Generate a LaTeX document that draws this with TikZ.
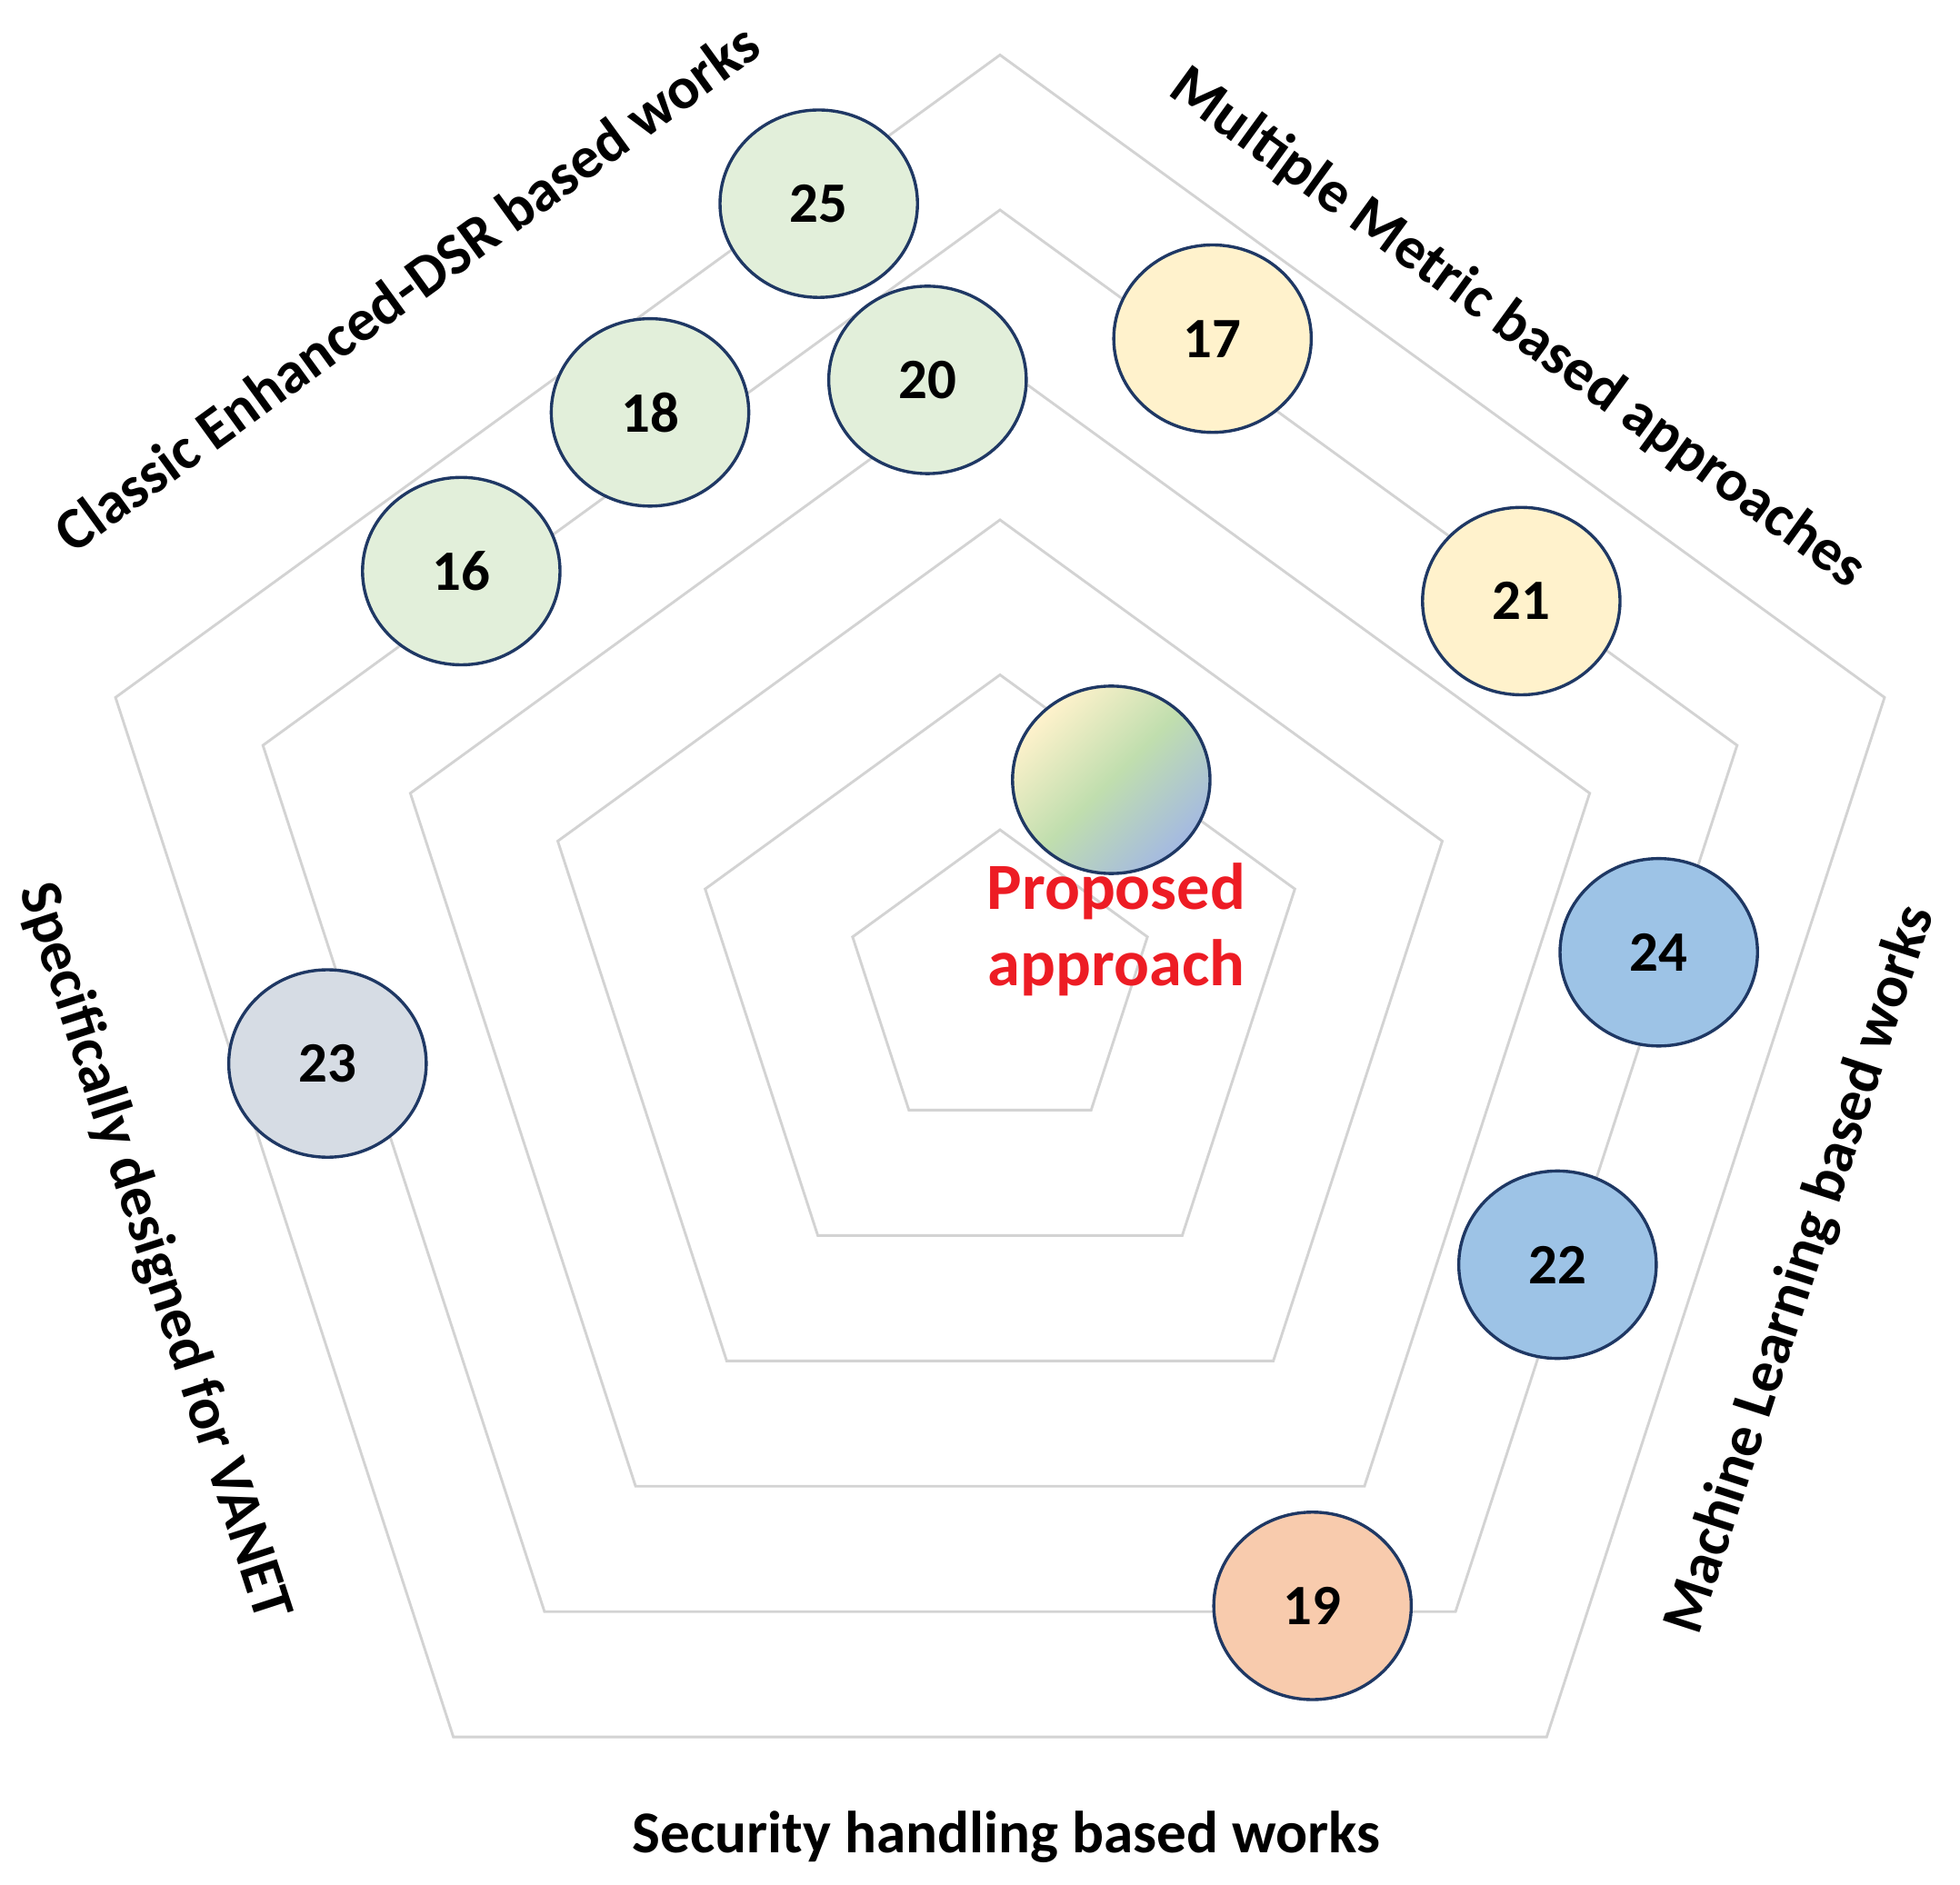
\documentclass[tikz,border=0pt]{standalone}
\usepackage{fontspec}
\setmainfont{Carlito}
\usetikzlibrary{positioning, shapes.geometric}

\definecolor{ringgray}{HTML}{D3D3D3}
\definecolor{edgeblue}{HTML}{1F3864}
\definecolor{dsrgreen}{HTML}{E2EFDA}
\definecolor{metricyellow}{HTML}{FFF2CC}
\definecolor{mlblue}{HTML}{9DC3E6}
\definecolor{secorange}{HTML}{F8CBAD}
\definecolor{vanetgray}{HTML}{D6DCE4}
\definecolor{propyellow}{HTML}{FFF2CC}
\definecolor{propgreen}{HTML}{C0DEAE}
\definecolor{propblue}{HTML}{A4B9E2}
\definecolor{propred}{HTML}{ED1C24}

\begin{document}
\begin{tikzpicture}[
    every node/.style={font=\bfseries},
    ring/.style={draw=ringgray, line width=0.6pt},
    work/.style={
        ellipse, draw=edgeblue, line width=0.7pt, inner sep=0pt,
        minimum width=1.58cm, minimum height=1.50cm,
        font=\fontsize{13}{15}\selectfont\bfseries
    },
    axislabel/.style={font=\fontsize{13.5}{16}\selectfont\bfseries, inner sep=0pt},
]
\useasboundingbox (0,0) rectangle (15.68,-15.08);

% =====================================================================
%  Concentric pentagons
% =====================================================================
\coordinate (ctr) at (8.00,-7.88);
\foreach \r in {1.24,2.48,3.72,4.96,6.20,7.44}
    \draw[ring, shift={(ctr)}]
        (90:\r) -- (162:\r) -- (234:\r) -- (306:\r) -- (18:\r) -- cycle;

% =====================================================================
%  Works, one colour per family
% =====================================================================
% Classic Enhanced-DSR
\node[work, fill=dsrgreen] (w25) at (6.55,-1.63) {25};
\node[work, fill=dsrgreen] (w20) at (7.42,-3.04) {20};
\node[work, fill=dsrgreen] (w18) at (5.20,-3.30) {18};
\node[work, fill=dsrgreen] (w16) at (3.69,-4.57) {16};

% Multiple metric
\node[work, fill=metricyellow] (w17) at (9.70,-2.71) {17};
\node[work, fill=metricyellow] (w21) at (12.17,-4.81) {21};

% Machine learning
\node[work, fill=mlblue] (w24) at (13.27,-7.62) {24};
\node[work, fill=mlblue] (w22) at (12.46,-10.12) {22};

% Security handling
\node[work, fill=secorange] (w19) at (10.50,-12.85) {19};

% VANET specific
\node[work, fill=vanetgray] (w23) at (2.62,-8.51) {23};

% Proposed approach
\node[work, top color=propyellow, bottom color=propblue,
      middle color=propgreen, shading angle=45] (prop) at (8.89,-6.24) {};
\node[font=\fontsize{15}{17.5}\selectfont\bfseries, text=propred,
      align=center, inner sep=0pt, below=-3pt of prop, xshift=0.4mm]
    (proplabel) {Proposed\\approach};

% =====================================================================
%  Family labels along the outer edges
% =====================================================================
\node[axislabel, rotate=36]  (dsr)    at (3.25,-2.30)  {Classic Enhanced-DSR based works};
\node[axislabel, rotate=-36] (metric) at (12.14,-2.63) {Multiple Metric based approaches};
\node[axislabel, rotate=72]  (ml)     at (14.41,-10.16) {Machine Learning based works};
\node[axislabel, rotate=-72] (vanet)  at (1.23,-10.02) {Specifically designed for VANET};
\node[axislabel]             (sec)    at (8.05,-14.70) {Security handling based works};

\end{tikzpicture}
\end{document}
